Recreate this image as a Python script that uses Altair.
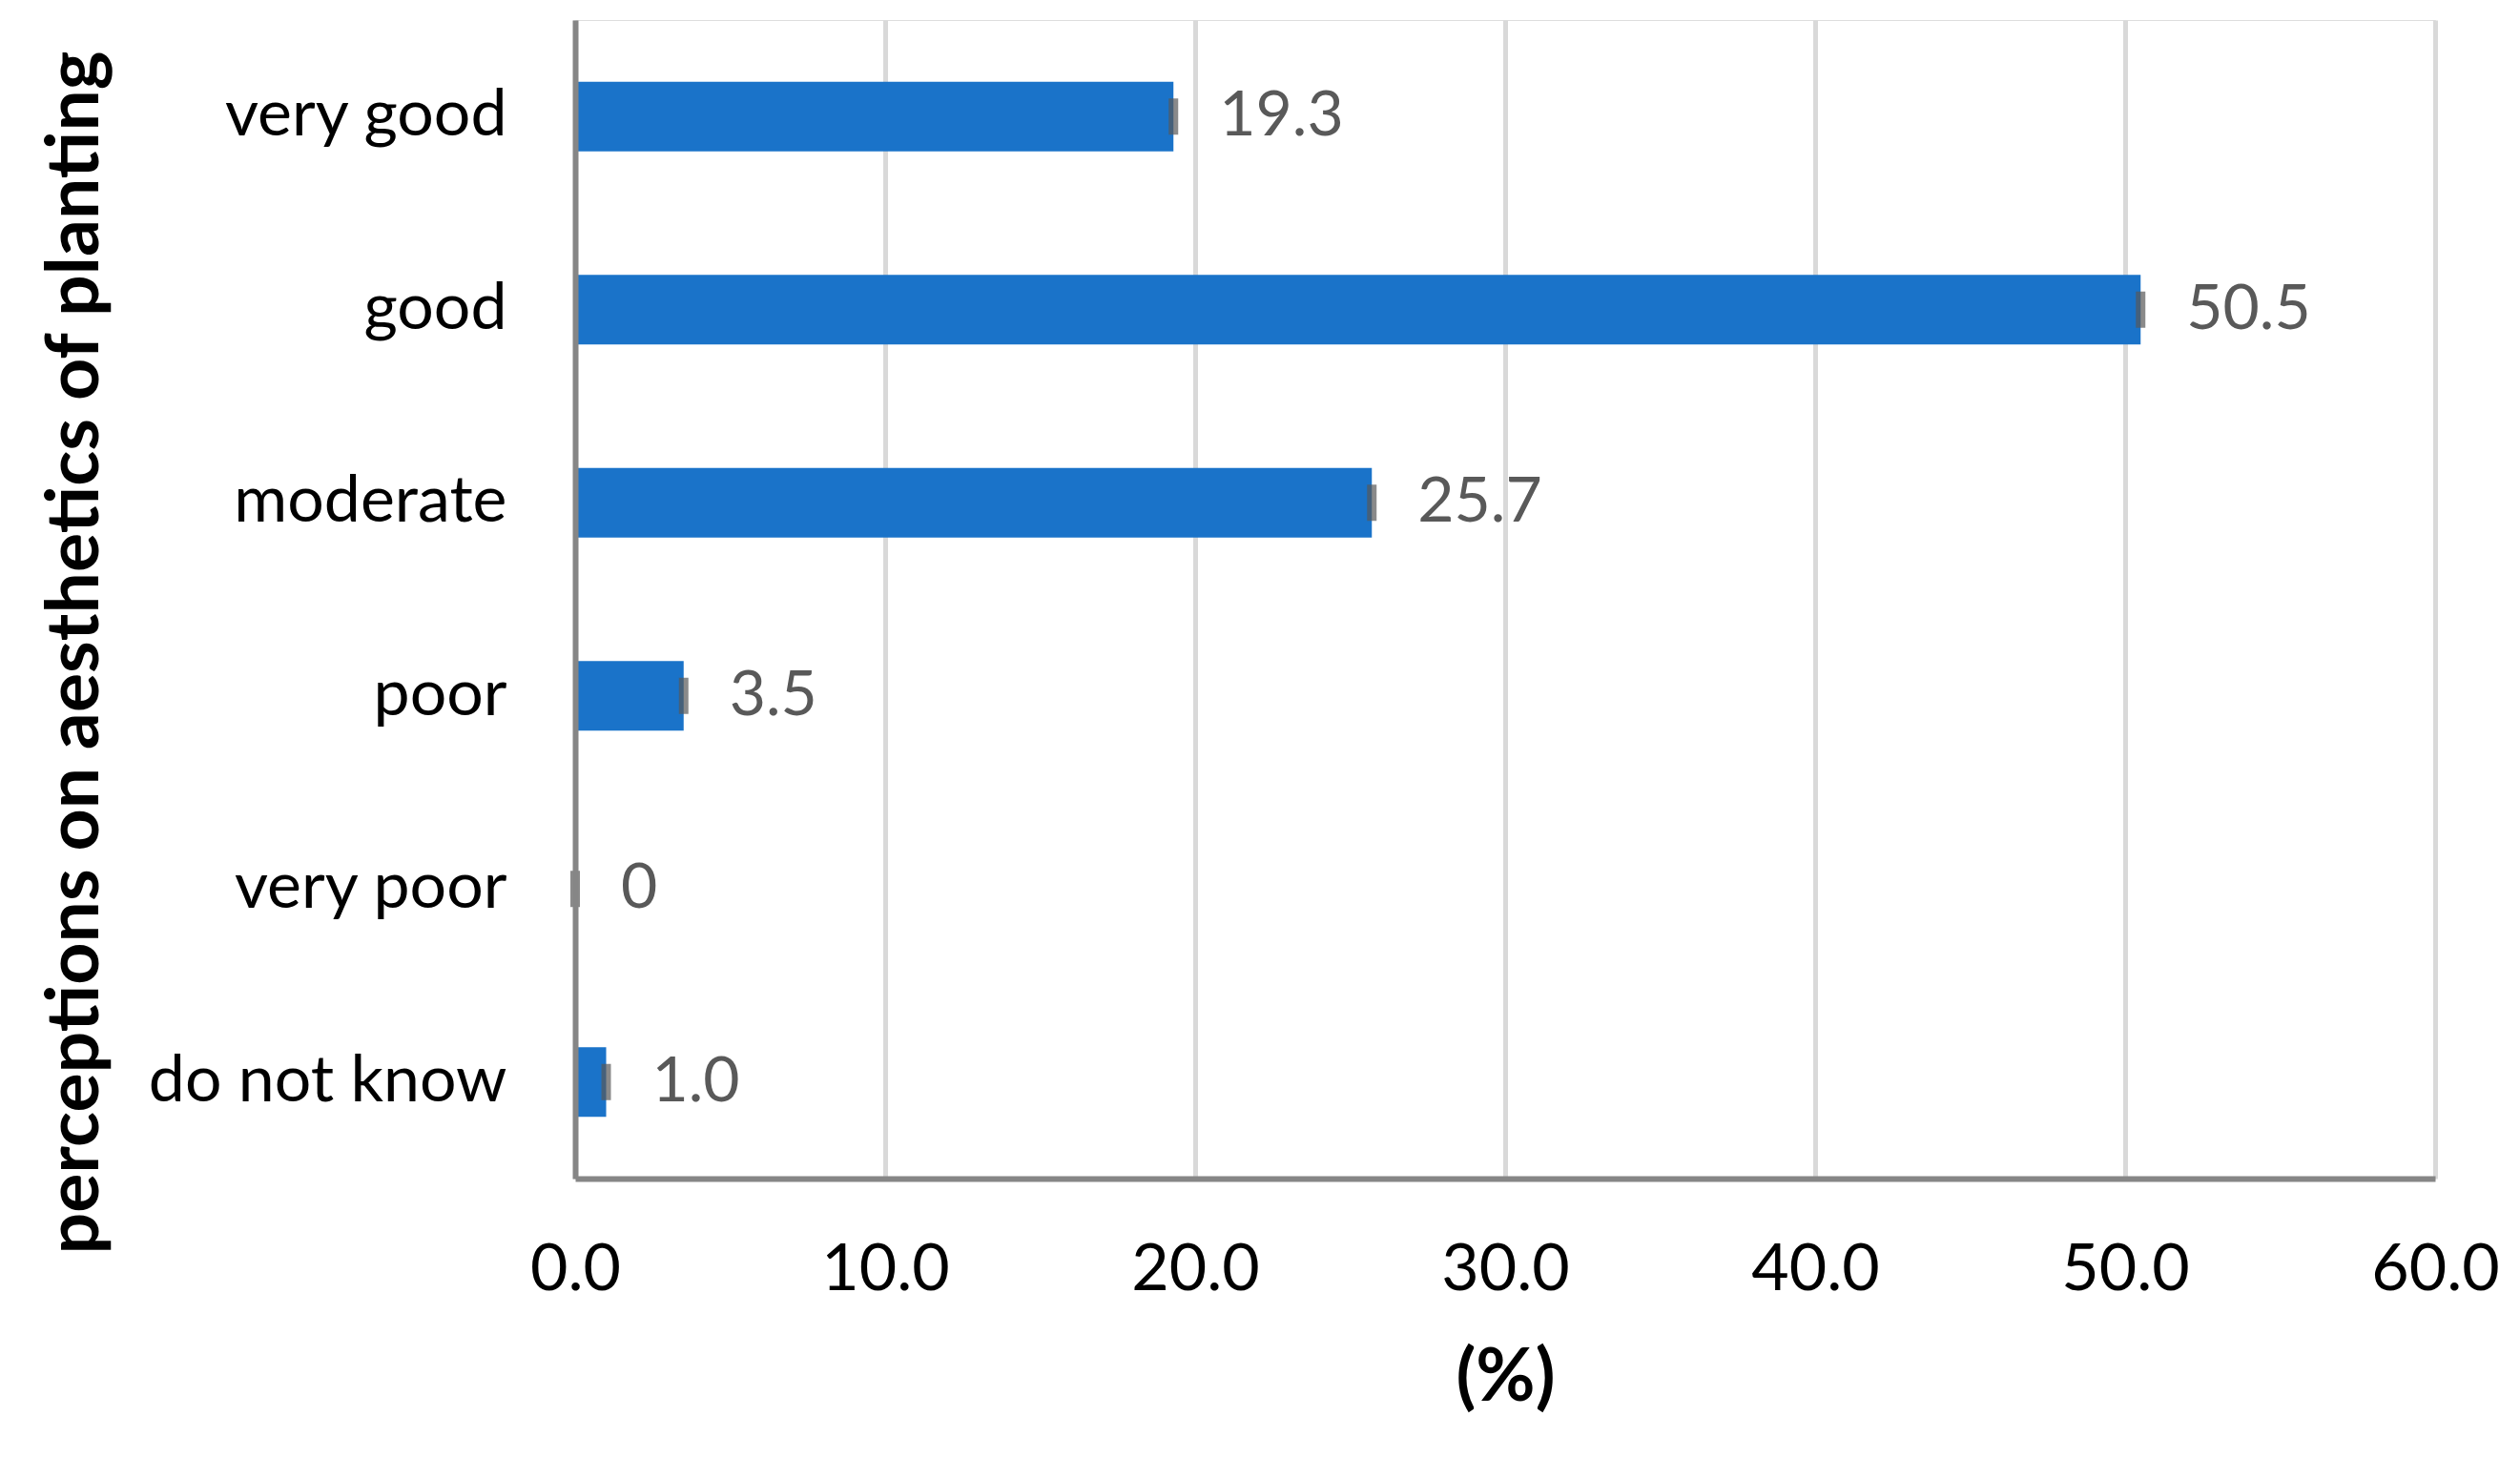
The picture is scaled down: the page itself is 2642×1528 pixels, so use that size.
import altair as alt
import pandas as pd

categories = ["very good", "good", "moderate", "poor", "very poor", "do not know"]
percent = [19.3, 50.5, 25.7, 3.5, 0.0, 1.0]
value_labels = ["19.3", "50.5", "25.7", "3.5", "0", "1.0"]
x_ticks = [0, 10, 20, 30, 40, 50, 60]

df = pd.DataFrame({"cat": categories, "pct": percent, "lab": value_labels})

FONT = "Lato"
FS = 68

y_enc = alt.Y(
    "cat:N",
    sort=categories,
    scale=alt.Scale(paddingInner=0.64, paddingOuter=0.32),
    axis=alt.Axis(
        title="perceptions on aesthetics of planting",
        titleFont=FONT, titleFontSize=77, titleFontWeight="bold", titleColor="#000000",
        titleX=-501, titleY=663, titleAngle=270, titleBaseline="alphabetic", titleAlign="center",
        labelFont=FONT, labelFontSize=FS, labelColor="#000000", labelPadding=72,
        labelLimit=1000,
        ticks=False, tickSize=0,
        domainColor="#868686", domainWidth=6,
        grid=False, zindex=1,
    ),
)

x_enc = alt.X(
    "pct:Q",
    scale=alt.Scale(domain=[0, 60], nice=False, zero=True),
    axis=alt.Axis(
        title="(%)",
        titleFont=FONT, titleFontSize=76, titleFontWeight="bold", titleColor="#000000",
        titlePadding=42,
        values=x_ticks, format=".1f", labelFlush=False,
        labelFont=FONT, labelFontSize=FS, labelColor="#000000", labelPadding=62,
        ticks=False, tickSize=0,
        domainColor="#868686", domainWidth=6,
        grid=True, gridColor="#d9d9d9", gridWidth=5,
    ),
)

base = alt.Chart(df).encode(y=y_enc)

bars = base.mark_bar(color="#1A73C9").encode(x=x_enc)
err = base.mark_tick(color="#595959", thickness=10, size=38, orient="vertical").encode(x="pct:Q")
text = base.mark_text(align="left", baseline="middle", dx=48, font=FONT, fontSize=66,
                      color="#595959").encode(x="pct:Q", text="lab:N")

chart = alt.layer(bars, err, text).properties(
    width=1950, height=1215,
    autosize=alt.AutoSizeParams(type="none"),
    padding={"left": 595, "top": 13, "right": 80, "bottom": 284},
).configure_view(stroke=None).configure(background="white")

chart.save("out.html", embed_options={"renderer": "svg", "actions": False})
